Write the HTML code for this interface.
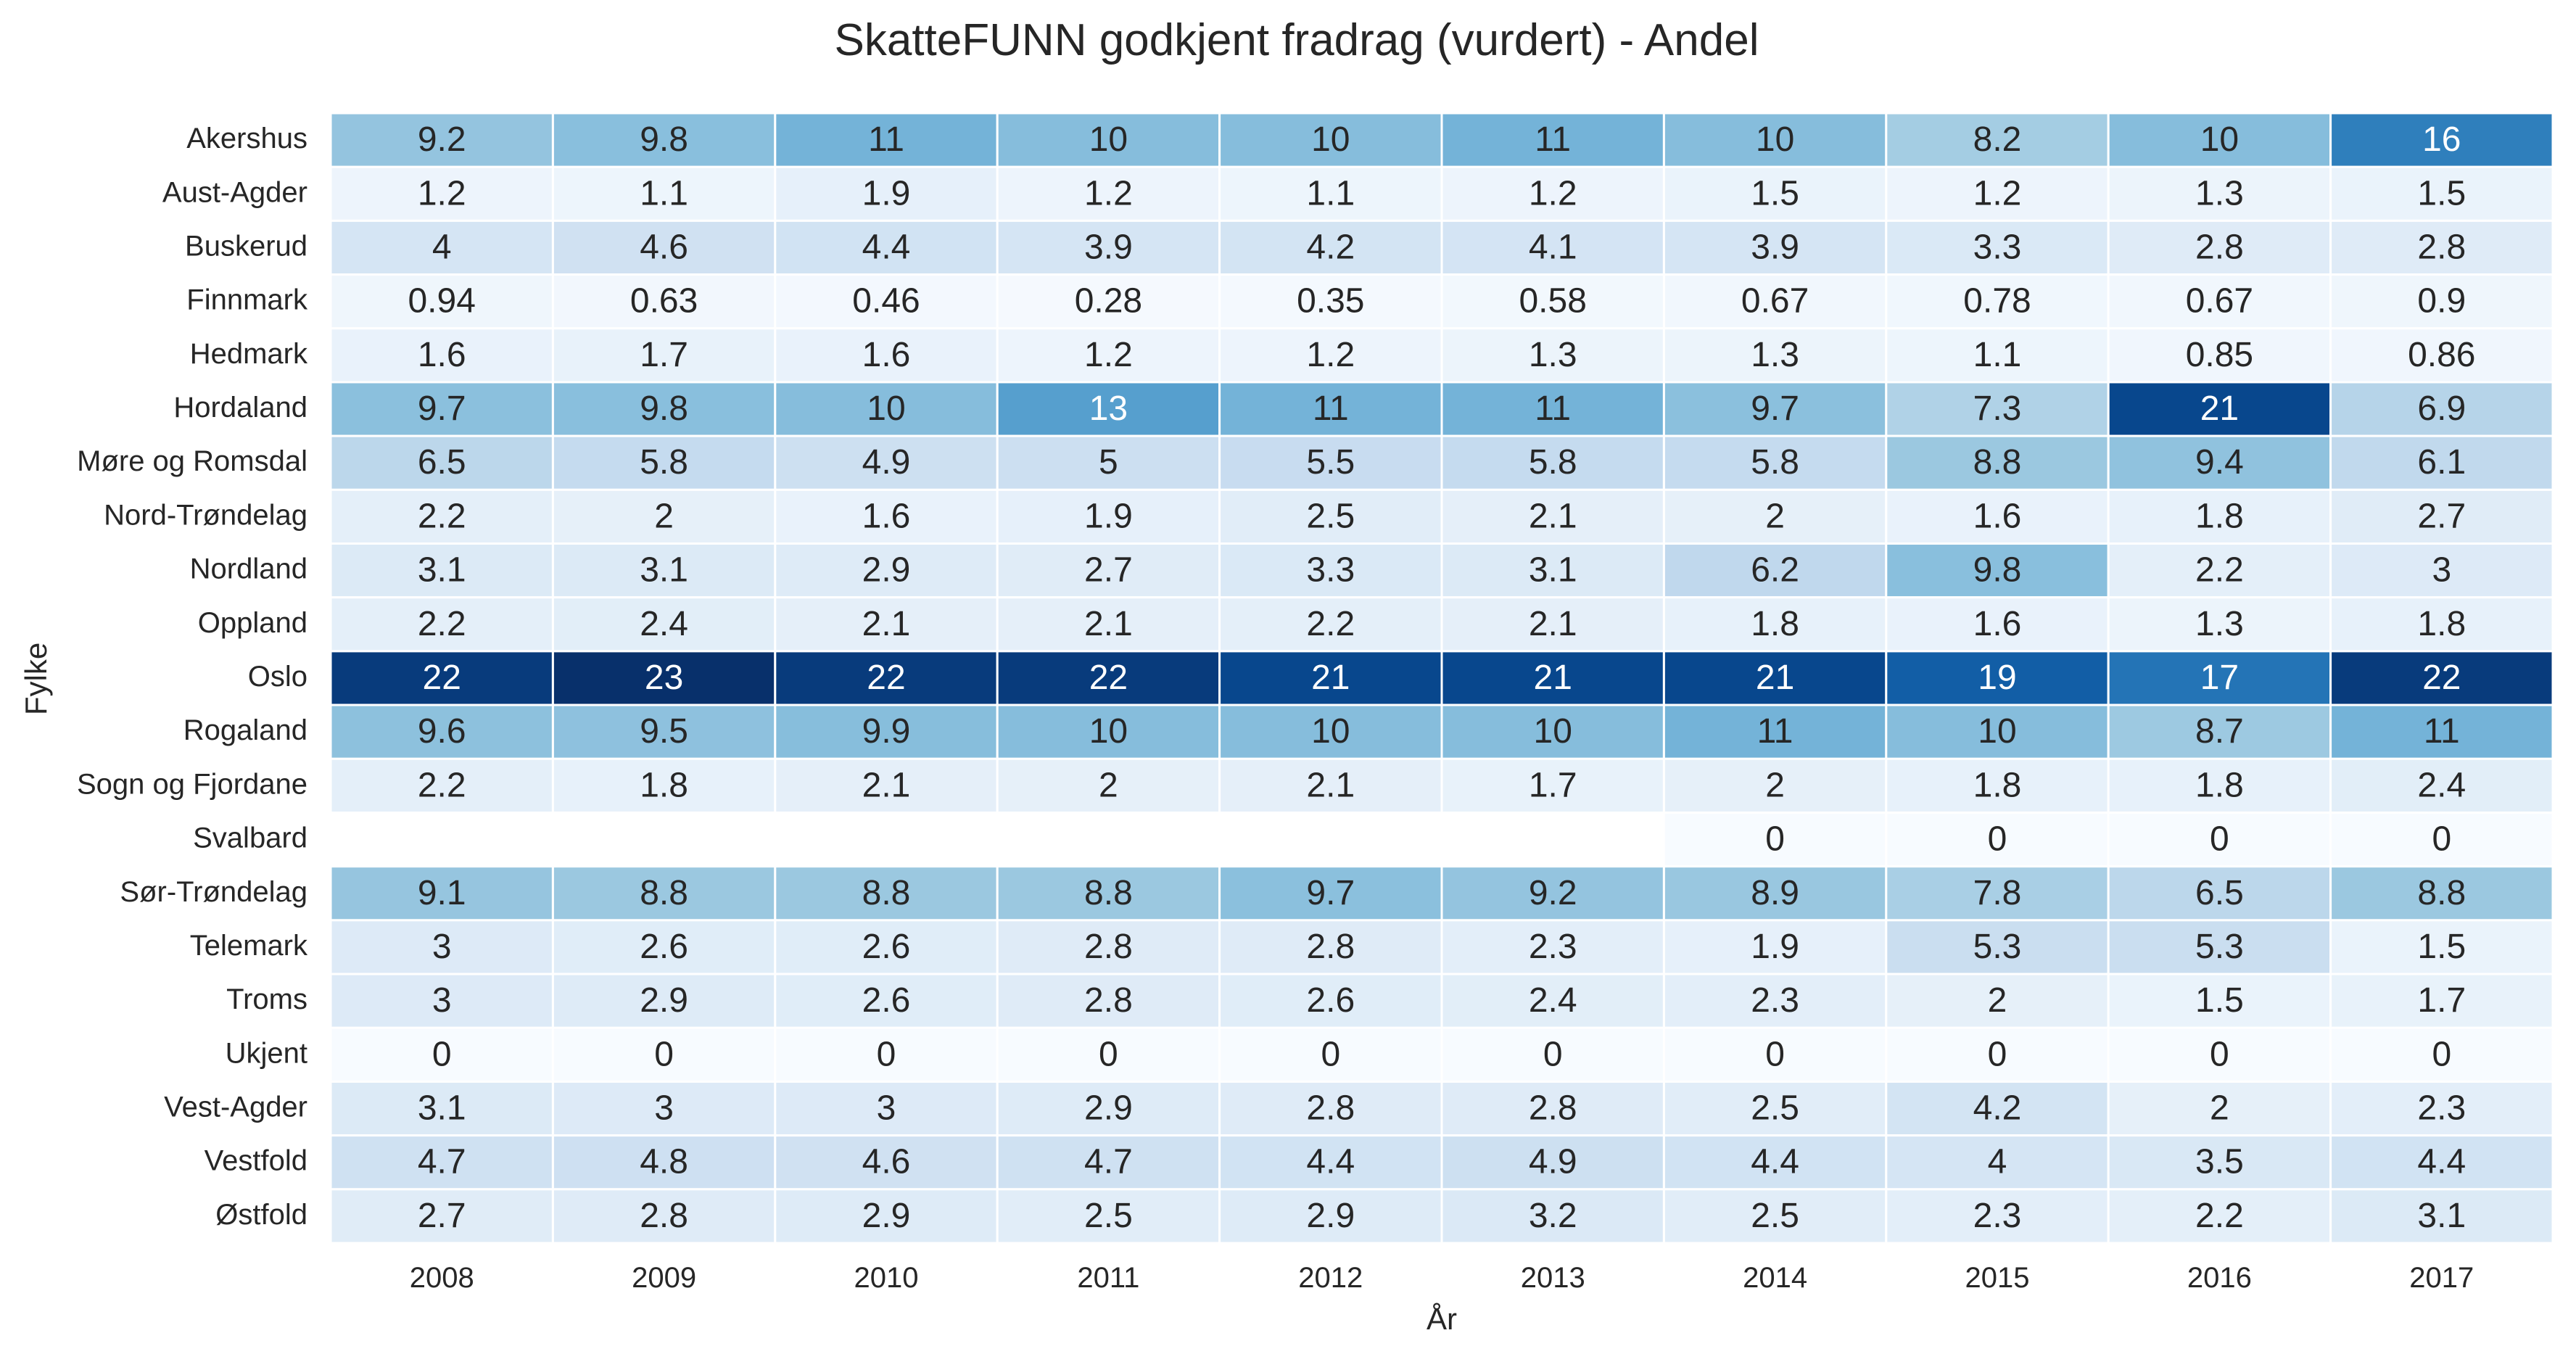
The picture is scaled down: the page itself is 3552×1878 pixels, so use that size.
<!DOCTYPE html>
<html><head><meta charset="utf-8">
<style>
html,body{margin:0;padding:0;background:#fff;}
svg{display:block;font-family:"Liberation Sans",Arial,sans-serif;}
</style></head>
<body>
<svg id="chart" width="3552" height="1878" viewBox="0 0 3552 1878" xmlns="http://www.w3.org/2000/svg">
<rect width="3552" height="1878" fill="#fff"/>
<text x="1788" y="76" font-size="62" text-anchor="middle" fill="#262626">SkatteFUNN godkjent fradrag (vurdert) - Andel</text>
<text x="1988" y="1833" font-size="42" text-anchor="middle" fill="#262626">År</text>
<text x="0" y="0" font-size="42" text-anchor="middle" fill="#262626" transform="translate(64,936) rotate(-90)">Fylke</text>
<g id="cells"></g>
</svg>
<script>
const years = ["2008","2009","2010","2011","2012","2013","2014","2015","2016","2017"];
const regions = ["Akershus","Aust-Agder","Buskerud","Finnmark","Hedmark","Hordaland","Møre og Romsdal","Nord-Trøndelag","Nordland","Oppland","Oslo","Rogaland","Sogn og Fjordane","Svalbard","Sør-Trøndelag","Telemark","Troms","Ukjent","Vest-Agder","Vestfold","Østfold"];
const vAkershus = [9.2,9.8,11,10,10,11,10,8.2,10,16];
const vAustAgder = [1.2,1.1,1.9,1.2,1.1,1.2,1.5,1.2,1.3,1.5];
const vBuskerud = [4,4.6,4.4,3.9,4.2,4.1,3.9,3.3,2.8,2.8];
const vFinnmark = [0.94,0.63,0.46,0.28,0.35,0.58,0.67,0.78,0.67,0.9];
const vHedmark = [1.6,1.7,1.6,1.2,1.2,1.3,1.3,1.1,0.85,0.86];
const vHordaland = [9.7,9.8,10,13,11,11,9.7,7.3,21,6.9];
const vMore = [6.5,5.8,4.9,5,5.5,5.8,5.8,8.8,9.4,6.1];
const vNordTrondelag = [2.2,2,1.6,1.9,2.5,2.1,2,1.6,1.8,2.7];
const vNordland = [3.1,3.1,2.9,2.7,3.3,3.1,6.2,9.8,2.2,3];
const vOppland = [2.2,2.4,2.1,2.1,2.2,2.1,1.8,1.6,1.3,1.8];
const vOslo = [22,23,22,22,21,21,21,19,17,22];
const vRogaland = [9.6,9.5,9.9,10,10,10,11,10,8.7,11];
const vSogn = [2.2,1.8,2.1,2,2.1,1.7,2,1.8,1.8,2.4];
const vSvalbard = [null,null,null,null,null,null,0,0,0,0];
const vSorTrondelag = [9.1,8.8,8.8,8.8,9.7,9.2,8.9,7.8,6.5,8.8];
const vTelemark = [3,2.6,2.6,2.8,2.8,2.3,1.9,5.3,5.3,1.5];
const vTroms = [3,2.9,2.6,2.8,2.6,2.4,2.3,2,1.5,1.7];
const vUkjent = [0,0,0,0,0,0,0,0,0,0];
const vVestAgder = [3.1,3,3,2.9,2.8,2.8,2.5,4.2,2,2.3];
const vVestfold = [4.7,4.8,4.6,4.7,4.4,4.9,4.4,4,3.5,4.4];
const vOstfold = [2.7,2.8,2.9,2.5,2.9,3.2,2.5,2.3,2.2,3.1];
const values = [vAkershus,vAustAgder,vBuskerud,vFinnmark,vHedmark,vHordaland,vMore,vNordTrondelag,vNordland,vOppland,vOslo,vRogaland,vSogn,vSvalbard,vSorTrondelag,vTelemark,vTroms,vUkjent,vVestAgder,vVestfold,vOstfold];

const L=456,R=3520,T=156,B=1714;
const cw=(R-L)/years.length, rh=(B-T)/regions.length;
const xPos=i=>L+i*cw, yPos=j=>T+j*rh;
let vmax=0; values.forEach(r=>r.forEach(v=>{if(v!=null&&v>vmax)vmax=v;}));
const stops=["#f7fbff","#deebf7","#c6dbef","#9ecae1","#6baed6","#4292c6","#2171b5","#08519c","#08306b"].map(h=>[parseInt(h.slice(1,3),16),parseInt(h.slice(3,5),16),parseInt(h.slice(5,7),16)]);
function cmap(v){const t=Math.max(0,Math.min(1,v/vmax))*(stops.length-1);const i=Math.min(Math.floor(t),stops.length-2),f=t-i;return stops[i].map((c,k)=>Math.round(c+(stops[i+1][k]-c)*f));}
function lum(c){const a=c.map(x=>{x/=255;return x<=0.03928?x/12.92:Math.pow((x+0.055)/1.055,2.4);});return 0.2126*a[0]+0.7152*a[1]+0.0722*a[2];}
const NS="http://www.w3.org/2000/svg";
const g=document.getElementById("cells");
regions.forEach((name,j)=>{
  const lab=document.createElementNS(NS,"text");
  
  
  lab.setAttribute("x",424);lab.setAttribute("y",yPos(j)+rh/2+11);
  lab.setAttribute("font-size","40");lab.setAttribute("text-anchor","end");lab.setAttribute("fill","#262626");
  lab.textContent=name;g.appendChild(lab);
  years.forEach((yr,i)=>{
    const v=values[j][i];
    if(v==null)return;
    const c=cmap(v);
    const r=document.createElementNS(NS,"rect");
    
    
    r.setAttribute("x",xPos(i));r.setAttribute("y",yPos(j));
    r.setAttribute("width",cw);r.setAttribute("height",rh);
    r.setAttribute("fill",`rgb(${c[0]},${c[1]},${c[2]})`);
    r.setAttribute("stroke","#fff");r.setAttribute("stroke-width","3");
    g.appendChild(r);
    const t=document.createElementNS(NS,"text");
    
    
    t.setAttribute("x",xPos(i)+cw/2);t.setAttribute("y",yPos(j)+rh/2+15);
    t.setAttribute("font-size","48");t.setAttribute("text-anchor","middle");
    t.setAttribute("fill",lum(c)>0.408?"#262626":"#ffffff");
    t.textContent=String(v);g.appendChild(t);
  });
});
years.forEach((yr,i)=>{
  const t=document.createElementNS(NS,"text");
  
  
  t.setAttribute("x",xPos(i)+cw/2);t.setAttribute("y",1775);
  t.setAttribute("font-size","40");t.setAttribute("text-anchor","middle");t.setAttribute("fill","#262626");
  t.textContent=yr;g.appendChild(t);
});
</script>
</body></html>
